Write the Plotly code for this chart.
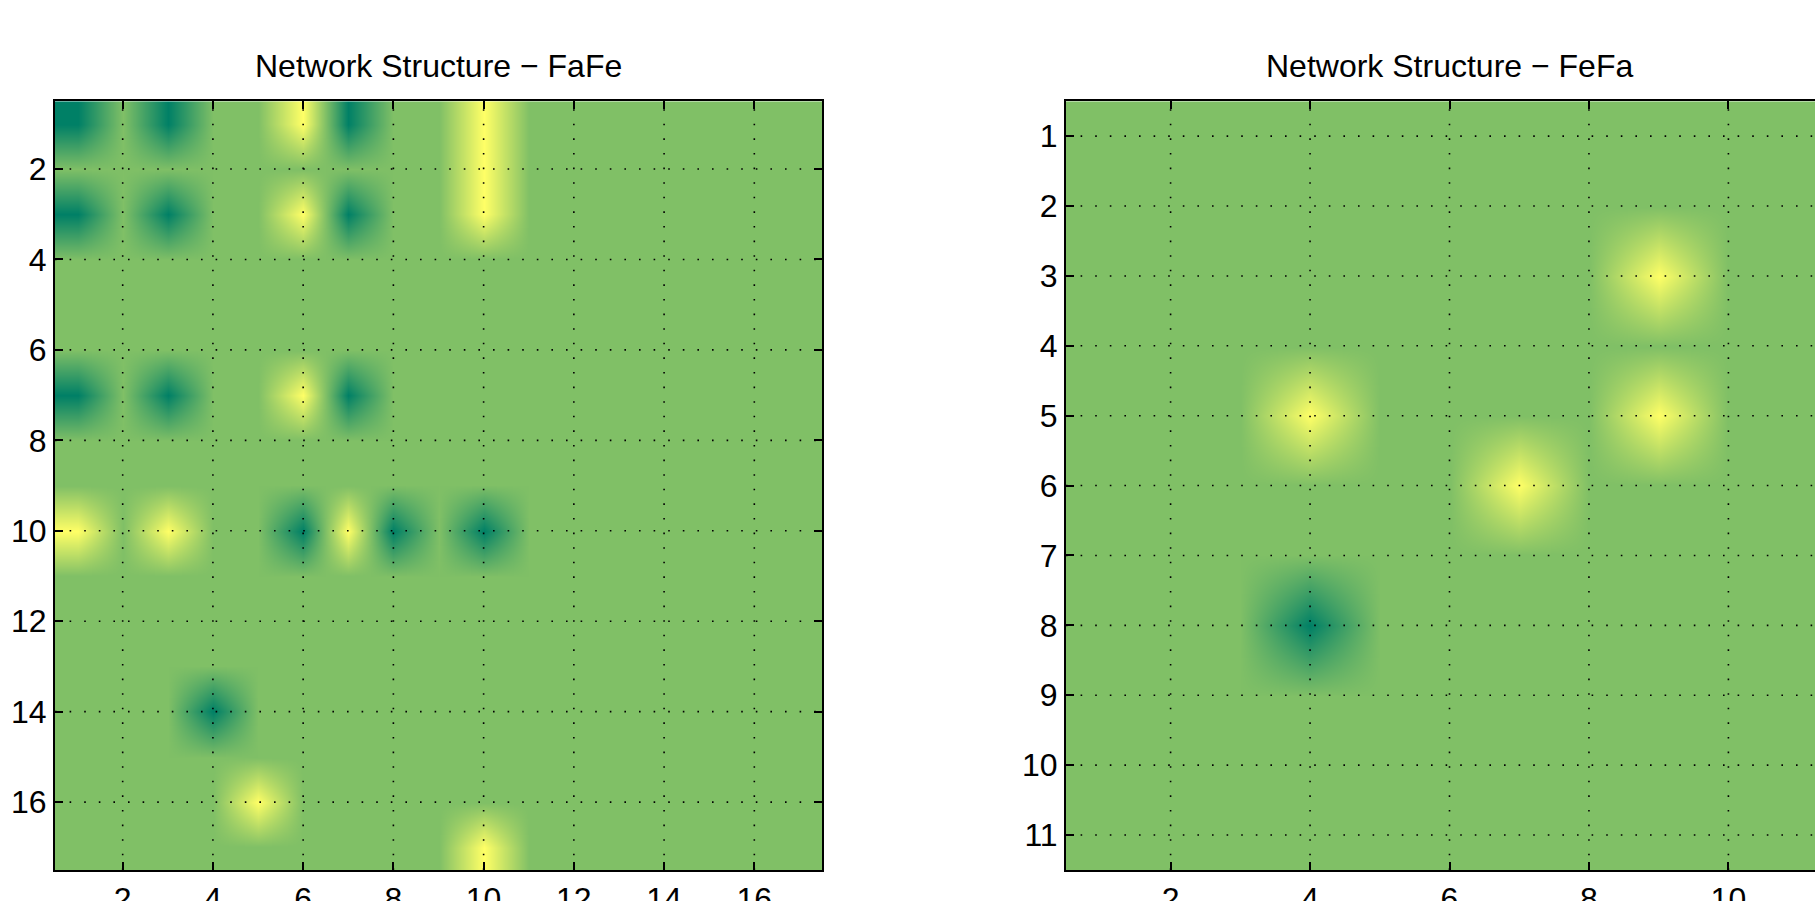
import plotly.graph_objects as go

# ---------------- data ----------------
fafe_rows = list(range(1, 18))
fafe_cols = list(range(1, 18))
fafe_values = [
    [-1, 0, -1, 0, 0, 1, -1, 0, 0, 1, 0, 0, 0, 0, 0, 0, 0],   # 1
    [0, 0, 0, 0, 0, 0, 0, 0, 0, 1, 0, 0, 0, 0, 0, 0, 0],      # 2
    [-1, 0, -1, 0, 0, 1, -1, 0, 0, 1, 0, 0, 0, 0, 0, 0, 0],   # 3
    [0, 0, 0, 0, 0, 0, 0, 0, 0, 0, 0, 0, 0, 0, 0, 0, 0],      # 4
    [0, 0, 0, 0, 0, 0, 0, 0, 0, 0, 0, 0, 0, 0, 0, 0, 0],      # 5
    [0, 0, 0, 0, 0, 0, 0, 0, 0, 0, 0, 0, 0, 0, 0, 0, 0],      # 6
    [-1, 0, -1, 0, 0, 1, -1, 0, 0, 0, 0, 0, 0, 0, 0, 0, 0],   # 7
    [0, 0, 0, 0, 0, 0, 0, 0, 0, 0, 0, 0, 0, 0, 0, 0, 0],      # 8
    [0, 0, 0, 0, 0, 0, 0, 0, 0, 0, 0, 0, 0, 0, 0, 0, 0],      # 9
    [1, 0, 1, 0, 0, -1, 1, -1, 0, -1, 0, 0, 0, 0, 0, 0, 0],   # 10
    [0, 0, 0, 0, 0, 0, 0, 0, 0, 0, 0, 0, 0, 0, 0, 0, 0],      # 11
    [0, 0, 0, 0, 0, 0, 0, 0, 0, 0, 0, 0, 0, 0, 0, 0, 0],      # 12
    [0, 0, 0, 0, 0, 0, 0, 0, 0, 0, 0, 0, 0, 0, 0, 0, 0],      # 13
    [0, 0, 0, -1, 0, 0, 0, 0, 0, 0, 0, 0, 0, 0, 0, 0, 0],     # 14
    [0, 0, 0, 0, 0, 0, 0, 0, 0, 0, 0, 0, 0, 0, 0, 0, 0],      # 15
    [0, 0, 0, 0, 1, 0, 0, 0, 0, 0, 0, 0, 0, 0, 0, 0, 0],      # 16
    [0, 0, 0, 0, 0, 0, 0, 0, 0, 1, 0, 0, 0, 0, 0, 0, 0],      # 17
]

fefa_rows = list(range(1, 12))
fefa_cols = list(range(1, 12))
fefa_values = [
    [0, 0, 0, 0, 0, 0, 0, 0, 0, 0, 0],   # 1
    [0, 0, 0, 0, 0, 0, 0, 0, 0, 0, 0],   # 2
    [0, 0, 0, 0, 0, 0, 0, 0, 1, 0, 0],   # 3
    [0, 0, 0, 0, 0, 0, 0, 0, 0, 0, 0],   # 4
    [0, 0, 0, 1, 0, 0, 0, 0, 1, 0, 0],   # 5
    [0, 0, 0, 0, 0, 0, 1, 0, 0, 0, 0],   # 6
    [0, 0, 0, 0, 0, 0, 0, 0, 0, 0, 0],   # 7
    [0, 0, 0, -1, 0, 0, 0, 0, 0, 0, 0],  # 8
    [0, 0, 0, 0, 0, 0, 0, 0, 0, 0, 0],   # 9
    [0, 0, 0, 0, 0, 0, 0, 0, 0, 0, 0],   # 10
    [0, 0, 0, 0, 0, 0, 0, 0, 0, 0, 0],   # 11
]

titles = ["Network Structure \u2212 FaFe", "Network Structure \u2212 FeFa"]
fafe_xticks = [2, 4, 6, 8, 10, 12, 14, 16]
fafe_yticks = [2, 4, 6, 8, 10, 12, 14, 16]
fefa_xticks = [2, 4, 6, 8, 10]
fefa_yticks = [1, 2, 3, 4, 5, 6, 7, 8, 9, 10, 11]

# ---------------- layout constants ----------------
W = 1815
H_VIEW = 901          # visible height
H = 917               # figure height (part below the window is not shown)
FONT = "Liberation Sans, Arial, Helvetica, sans-serif"
summer = [[0.0, "rgb(0,128,102)"], [1.0, "rgb(255,255,102)"]]

top_px, bot_px = 101, 868
left1_px, right1_px = 55, 822
left2_px = 1066
unit2 = (bot_px - top_px) / len(fefa_rows)
right2_range = 0.5 + (W - left2_px) / unit2

ydom = [1 - bot_px / H_VIEW, 1 - top_px / H_VIEW]

fig = go.Figure()
fig.add_trace(go.Heatmap(
    x=fafe_cols, y=fafe_rows, z=fafe_values, zmin=-1, zmax=1,
    colorscale=summer, zsmooth="best", showscale=False,
    xaxis="x", yaxis="y", hoverinfo="skip"))
fig.add_trace(go.Heatmap(
    x=fefa_cols, y=fefa_rows, z=fefa_values, zmin=-1, zmax=1,
    colorscale=summer, zsmooth="best", showscale=False,
    xaxis="x2", yaxis="y2", hoverinfo="skip"))

axis_common = dict(
    showgrid=False, zeroline=False, showline=True, linewidth=2,
    linecolor="black", ticks="inside", ticklen=8, tickwidth=2,
    tickcolor="black", layer="above traces",
    tickfont=dict(family=FONT, size=32, color="black"),
)

fig.update_layout(
    width=W, height=H, autosize=False, margin=dict(l=0, r=0, t=0, b=0),
    paper_bgcolor="white", plot_bgcolor="white", showlegend=False,
    xaxis=dict(domain=[left1_px / W, right1_px / W], range=[0.5, len(fafe_cols) + 0.5],
               tickvals=fafe_xticks, mirror="ticks", anchor="y", **axis_common),
    yaxis=dict(domain=ydom, range=[len(fafe_rows) + 0.5, 0.5],
               tickvals=fafe_yticks, mirror="ticks", anchor="x", **axis_common),
    xaxis2=dict(domain=[left2_px / W, 1.0], range=[0.5, right2_range],
                tickvals=fefa_xticks, mirror="ticks", anchor="y2", **axis_common),
    yaxis2=dict(domain=ydom, range=[len(fefa_rows) + 0.5, 0.5],
                tickvals=fefa_yticks, mirror=False, anchor="x2", **axis_common),
)

# dotted grid lines drawn above the image
grid_line = dict(color="black", width=1.6, dash="1.6px,13px")
for t in fafe_xticks:
    fig.add_shape(type="line", xref="x", yref="y domain", x0=t, x1=t, y0=0, y1=1,
                  line=grid_line, layer="above")
for t in fafe_yticks:
    fig.add_shape(type="line", xref="x domain", yref="y", x0=0, x1=1, y0=t, y1=t,
                  line=grid_line, layer="above")
for t in fefa_xticks:
    fig.add_shape(type="line", xref="x2", yref="y2 domain", x0=t, x1=t, y0=0, y1=1,
                  line=grid_line, layer="above")
for t in fefa_yticks:
    fig.add_shape(type="line", xref="x2 domain", yref="y2", x0=0, x1=1, y0=t, y1=t,
                  line=grid_line, layer="above")

# titles
title_y = 1 - 65.5 / H_VIEW
fig.add_annotation(text=titles[0], xref="paper", yref="paper",
                   x=(left1_px + right1_px) / 2 / W, y=title_y,
                   xanchor="center", yanchor="middle", showarrow=False,
                   font=dict(family=FONT, size=32, color="black"))
fig.add_annotation(text=titles[1], xref="paper", yref="paper",
                   x=(left2_px + left2_px + unit2 * len(fefa_cols)) / 2 / W, y=title_y,
                   xanchor="center", yanchor="middle", showarrow=False,
                   font=dict(family=FONT, size=32, color="black"))

fig.write_html("out.html",
               config={"responsive": False, "displayModeBar": False},
               post_script="document.body.style.margin='0';document.body.style.overflow='hidden';")
